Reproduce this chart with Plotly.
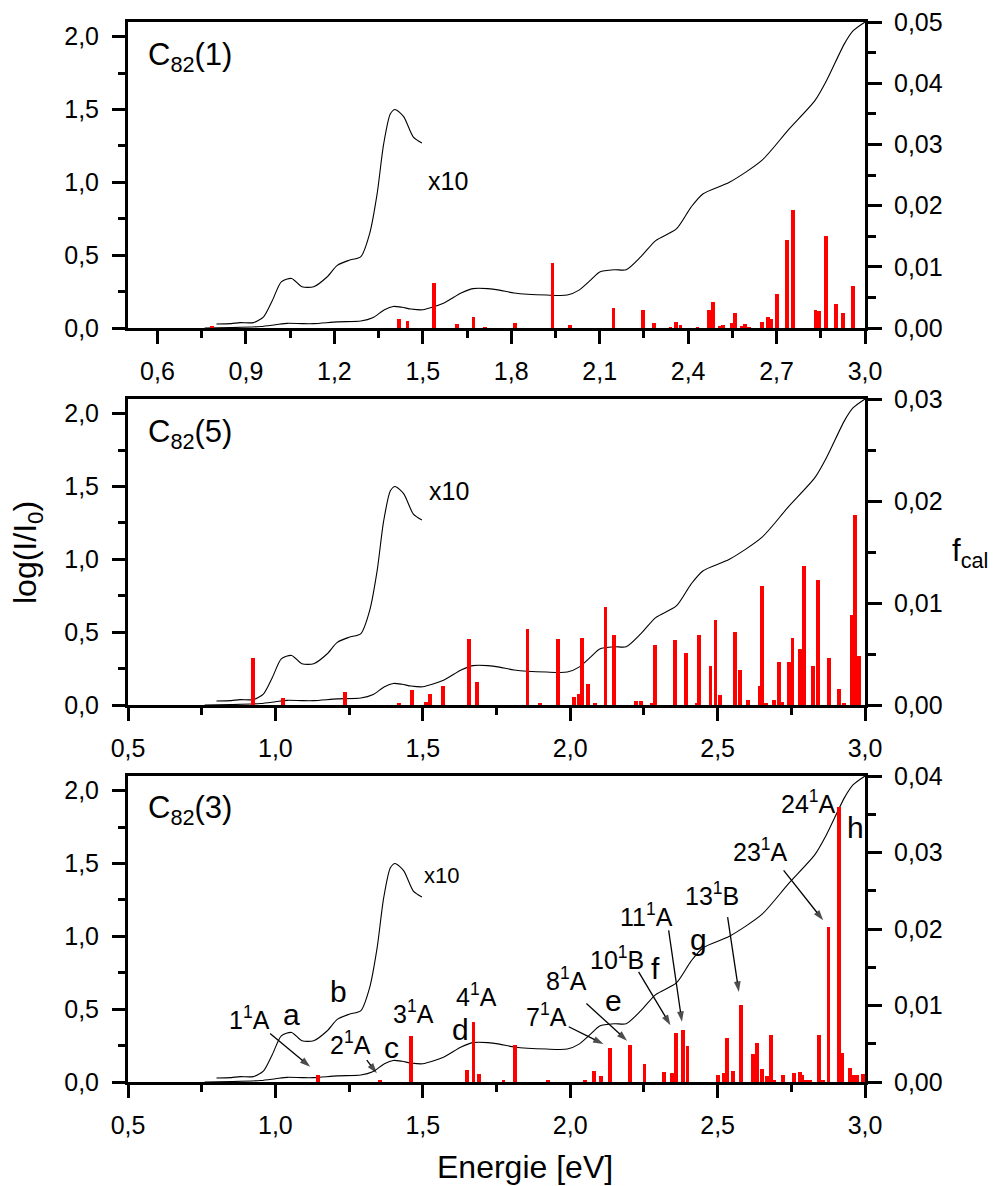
import plotly.graph_objects as go

# ---------------- data ----------------
# experimental absorption spectrum (same in every panel)
spec_E = [0.76, 0.85, 0.95, 1.00, 1.04, 1.09, 1.13, 1.21, 1.29, 1.33, 1.37, 1.40, 1.43, 1.46,
          1.50, 1.57, 1.63, 1.67, 1.72, 1.76, 1.81, 1.92, 1.99, 2.03, 2.07, 2.10, 2.15, 2.19,
          2.24, 2.29, 2.36, 2.41, 2.45, 2.54, 2.65, 2.74, 2.83, 2.87, 2.93, 2.96, 3.00]
spec_A = [0.0, 0.003, 0.01, 0.022, 0.032, 0.03, 0.03, 0.042, 0.048, 0.07, 0.125, 0.148, 0.142, 0.13,
          0.125, 0.17, 0.24, 0.27, 0.27, 0.26, 0.24, 0.226, 0.226, 0.26, 0.33, 0.385, 0.40, 0.40,
          0.49, 0.60, 0.68, 0.83, 0.92, 1.00, 1.15, 1.36, 1.56, 1.70, 1.95, 2.04, 2.10]

# x10 magnified low-energy part
x10_E = [0.80, 0.85, 0.88, 0.925, 0.96, 0.99, 1.02, 1.055, 1.09, 1.13, 1.175, 1.21, 1.25, 1.29,
         1.32, 1.345, 1.367, 1.39, 1.406, 1.435, 1.468, 1.497]
x10_A = [0.027, 0.03, 0.037, 0.037, 0.077, 0.19, 0.317, 0.34, 0.283, 0.283, 0.35, 0.43, 0.465, 0.49,
         0.65, 0.92, 1.26, 1.47, 1.50, 1.45, 1.31, 1.27]

# calculated oscillator strengths, C82(1)
c1_E = [0.784, 1.42, 1.448, 1.539, 1.616, 1.672, 1.712, 1.813, 1.94, 2.0, 2.147, 2.247, 2.283,
        2.34, 2.36, 2.374, 2.432, 2.471, 2.483, 2.507, 2.518, 2.549, 2.56, 2.583, 2.594, 2.606,
        2.651, 2.67, 2.68, 2.702, 2.736, 2.756, 2.832, 2.844, 2.869, 2.903, 2.926, 2.96]
c1_f = [0.0003, 0.0014, 0.0012, 0.0073, 0.0007, 0.0018, 0.0001, 0.0008, 0.0107, 0.0005, 0.0032,
        0.0029, 0.0008, 0.0001, 0.001, 0.0005, 0.0001, 0.003, 0.0043, 0.0003, 0.0005, 0.0008,
        0.0025, 0.0003, 0.0007, 0.0001, 0.0009, 0.0018, 0.0015, 0.0055, 0.0144, 0.0193, 0.003,
        0.0028, 0.0151, 0.0039, 0.0025, 0.0069]

# C82(5)
c5_E = [0.925, 1.025, 1.237, 1.418, 1.463, 1.51, 1.523, 1.568, 1.657, 1.683, 1.855, 1.898, 1.958,
        2.012, 2.029, 2.04, 2.059, 2.085, 2.12, 2.149, 2.222, 2.239, 2.278, 2.288, 2.356, 2.392,
        2.43, 2.438, 2.476, 2.493, 2.507, 2.56, 2.575, 2.603, 2.642, 2.65, 2.664, 2.69, 2.707,
        2.718, 2.742, 2.754, 2.78, 2.793, 2.825, 2.84, 2.877, 2.911, 2.928, 2.957, 2.967, 2.98]
c5_f = [0.0046, 0.0007, 0.0013, 0.0001, 0.0015, 0.0003, 0.0011, 0.0019, 0.0065, 0.0023, 0.0075,
        0.0001, 0.0065, 0.0008, 0.0011, 0.0066, 0.0021, 0.0001, 0.0096, 0.0069, 0.0004, 0.0004,
        0.0001, 0.0059, 0.0064, 0.0051, 0.0002, 0.0069, 0.0038, 0.0083, 0.001, 0.0072, 0.0034,
        0.0005, 0.0019, 0.0117, 0.0002, 0.0005, 0.0042, 0.0003, 0.0042, 0.0066, 0.0055, 0.0136,
        0.0038, 0.0123, 0.0046, 0.0016, 0.0001, 0.0088, 0.0186, 0.0048]

# C82(3)
c3_E = [1.144, 1.355, 1.46, 1.65, 1.672, 1.69, 1.774, 1.814, 1.925, 2.049, 2.082, 2.104, 2.134,
        2.204, 2.252, 2.317, 2.345, 2.358, 2.383, 2.398, 2.5, 2.521, 2.532, 2.551, 2.58, 2.62,
        2.634, 2.651, 2.668, 2.68, 2.693, 2.722, 2.758, 2.78, 2.788, 2.8, 2.814, 2.843, 2.857,
        2.876, 2.913, 2.922, 2.95, 2.964, 2.973, 2.992]
c3_f = [0.0009, 0.0002, 0.006, 0.0016, 0.0079, 0.001, 0.0003, 0.0048, 0.0003, 0.0002, 0.0014,
        0.0008, 0.0044, 0.0049, 0.0024, 0.0013, 0.0012, 0.0064, 0.0068, 0.0047, 0.0009, 0.0012,
        0.0057, 0.0014, 0.0101, 0.0037, 0.0051, 0.0017, 0.0008, 0.0061, 0.0003, 0.0009, 0.0012,
        0.0013, 0.0009, 0.0003, 0.0003, 0.0062, 0.0003, 0.0202, 0.036, 0.0038, 0.0018, 0.0009,
        0.0009, 0.001]

panel_names = ["C<sub>82</sub>(1)", "C<sub>82</sub>(5)", "C<sub>82</sub>(3)"]
f_max = [0.05, 0.03, 0.04]

# ---------------- figure ----------------
FONT = "Liberation Sans, Arial, sans-serif"
W, H = 995, 1186
xl, xr = 128 / W, 865 / W
panels_px = [(22, 328), (399, 705), (776, 1082)]
doms = [[1 - b / H, 1 - t / H] for t, b in panels_px]

fig = go.Figure()
bars = [(c1_E, c1_f), (c5_E, c5_f), (c3_E, c3_f)]
for i in range(3):
    xa = "x" if i == 0 else f"x{i+1}"
    ya = "y" if i == 0 else f"y{i+1}"
    yr = f"y{i+4}"
    fig.add_trace(go.Scatter(x=spec_E, y=spec_A, mode="lines", line=dict(color="black", width=1.1, shape="spline", smoothing=0.7),
                             xaxis=xa, yaxis=ya, showlegend=False, hoverinfo="skip"))
    fig.add_trace(go.Scatter(x=x10_E, y=x10_A, mode="lines", line=dict(color="black", width=1.1, shape="spline", smoothing=0.7),
                             xaxis=xa, yaxis=ya, showlegend=False, hoverinfo="skip"))
    fig.add_trace(go.Bar(x=bars[i][0], y=bars[i][1], width=0.013, marker=dict(color="#ff0000", line=dict(width=0)),
                         xaxis=xa, yaxis=yr, showlegend=False, hoverinfo="skip"))

tickfont = dict(family=FONT, size=25, color="black")
common_x = dict(showgrid=False, zeroline=False, showline=True, linewidth=3, linecolor="black", mirror=True,
                ticks="outside", ticklen=13, tickwidth=3, tickcolor="black", tickformat=".1f",
                tickfont=tickfont, range=[0.5, 3.0], automargin=False, ticklabelstandoff=6)
common_y = dict(showgrid=False, zeroline=False, showline=True, linewidth=3, linecolor="black", mirror=True,
                ticks="outside", ticklen=13, tickwidth=3, tickcolor="black", tickformat=".1f",
                tickfont=tickfont, range=[0, 2.1], dtick=0.5, tick0=0, automargin=False, ticklabelstandoff=8,
                minor=dict(ticks="outside", ticklen=7, tickwidth=2.5, tickcolor="black", dtick=0.25, tick0=0))

layout = dict(width=W, height=H, margin=dict(l=0, r=0, t=0, b=0), plot_bgcolor="white", paper_bgcolor="white",
              separators=", ", bargap=0, barmode="overlay", font=dict(family=FONT, color="black"))
for i in range(3):
    sx = "" if i == 0 else str(i + 1)
    xa = "xaxis" + sx
    ya = "yaxis" + sx
    yr = f"yaxis{i+4}"
    xd = dict(common_x, domain=[xl, xr], anchor="y" + sx)
    if i == 0:
        xd.update(tick0=0.6, dtick=0.3, minor=dict(ticks="outside", ticklen=7, tickwidth=2.5, tickcolor="black", dtick=0.15, tick0=0.6))
    else:
        xd.update(tick0=0.5, dtick=0.5, minor=dict(ticks="outside", ticklen=7, tickwidth=2.5, tickcolor="black", dtick=0.25, tick0=0.5))
    layout[xa] = xd
    layout[ya] = dict(common_y, domain=doms[i], anchor="x" + sx)
    layout[yr] = dict(showgrid=False, zeroline=False, showline=True, linewidth=3, linecolor="black",
                      ticks="outside", ticklen=14, tickwidth=3, tickcolor="black", tickformat=".2f",
                      tickfont=tickfont, range=[0, f_max[i]], dtick=0.01, tick0=0, side="right",
                      overlaying="y" + sx, anchor="x" + sx, automargin=False, ticklabelstandoff=7,
                      minor=dict(ticks="outside", ticklen=8, tickwidth=2.5, tickcolor="black", dtick=0.005, tick0=0))
fig.update_layout(**layout)

ann = []
def txt(x, y, t, size, ref, **kw):
    d = dict(x=x, y=y, text=t, showarrow=False, font=dict(family=FONT, size=size, color="black"),
             xref="x" + ref, yref="y" + ref, xanchor="center", yanchor="middle")
    d.update(kw)
    ann.append(d)

def arrow(x0, y0, x1, y1, ref):
    # arrow drawn as a line with an arrow-head marker at its tip
    fig.add_trace(go.Scatter(x=[x0, x1], y=[y0, y1], mode="lines+markers", xaxis="x" + ref, yaxis="y" + ref,
                             line=dict(color="black", width=1.3),
                             marker=dict(symbol="arrow", size=[0, 11], angleref="previous", color="black",
                                         line=dict(width=0)),
                             showlegend=False, hoverinfo="skip"))

LBL = 25   # state labels
LET = 30   # band letters

# panel titles and x10 labels
for i, ref in enumerate(["", "2", "3"]):
    txt(0.56, 1.86 if i < 2 else 1.87, panel_names[i], 31, ref, xanchor="left")
txt(1.586, 1.01, "x10", 25, "")
txt(1.59, 1.47, "x10", 25, "2")
txt(1.565, 1.42, "x10", 22, "3")

# panel 3 assignments
r = "3"
txt(0.911, 0.44, "1<sup>1</sup>A", LBL, r)
arrow(0.982, 0.333, 1.118, 0.105, r)
txt(1.056, 0.46, "a", LET, r)
txt(1.214, 0.62, "b", LET, r)
txt(1.254, 0.265, "2<sup>1</sup>A", LBL, r)
arrow(1.31, 0.15, 1.344, 0.06, r)
txt(1.393, 0.24, "c", LET, r)
txt(1.469, 0.48, "3<sup>1</sup>A", LBL, r)
txt(1.627, 0.36, "d", LET, r)
txt(1.683, 0.60, "4<sup>1</sup>A", LBL, r)
txt(1.921, 0.46, "7<sup>1</sup>A", LBL, r)
arrow(1.995, 0.379, 2.113, 0.26, r)
txt(1.989, 0.71, "8<sup>1</sup>A", LBL, r)
arrow(2.055, 0.539, 2.193, 0.283, r)
txt(2.147, 0.56, "e", LET, r)
txt(2.159, 0.85, "10<sup>1</sup>B", LBL, r)
arrow(2.232, 0.756, 2.34, 0.39, r)
txt(2.29, 0.78, "f", LET, r)
txt(2.26, 1.145, "11<sup>1</sup>A", LBL, r)
arrow(2.334, 1.041, 2.379, 0.413, r)
txt(2.436, 0.975, "g", LET, r)
txt(2.481, 1.29, "13<sup>1</sup>B", LBL, r)
arrow(2.534, 1.132, 2.572, 0.618, r)
txt(2.645, 1.59, "23<sup>1</sup>A", LBL, r)
arrow(2.724, 1.452, 2.858, 1.11, r)
txt(2.809, 1.92, "24<sup>1</sup>A", LBL, r)
txt(2.968, 1.75, "h", LET, r)

# axis titles
ann.append(dict(x=28 / W, y=1 - 553 / H, xref="paper", yref="paper", text="log(I/I<sub>0</sub>)", textangle=-90,
                showarrow=False, font=dict(family=FONT, size=32, color="black"), xanchor="center", yanchor="middle"))
ann.append(dict(x=970 / W, y=1 - 553 / H, xref="paper", yref="paper", text="f<sub>cal</sub>",
                showarrow=False, font=dict(family=FONT, size=31, color="black"), xanchor="center", yanchor="middle"))
ann.append(dict(x=525 / W, y=1 - 1167 / H, xref="paper", yref="paper", text="Energie [eV]",
                showarrow=False, font=dict(family=FONT, size=32, color="black"), xanchor="center", yanchor="middle"))

fig.update_layout(annotations=ann)
fig.write_html("out.html")
